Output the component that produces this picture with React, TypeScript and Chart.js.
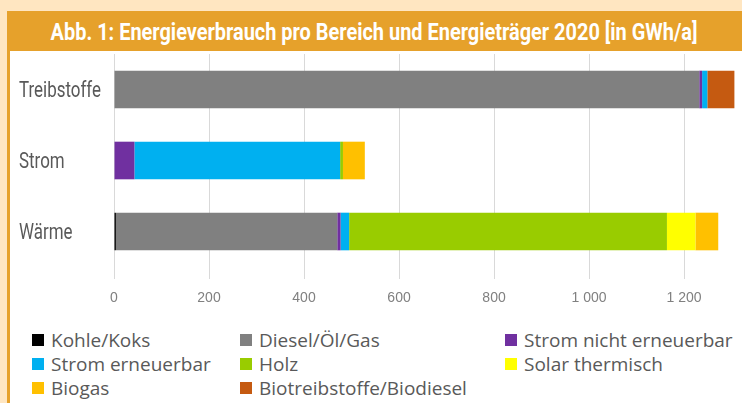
import React, { useEffect, useLayoutEffect, useRef } from "react";
import { Chart, registerables } from "chart.js";

Chart.register(...registerables);

const titleText = "Abb. 1: Energieverbrauch pro Bereich und Energieträger 2020 [in GWh/a]";

const categories = ["Treibstoffe", "Strom", "Wärme"];

const seriesNames = [
  "Kohle/Koks",
  "Diesel/Öl/Gas",
  "Strom nicht erneuerbar",
  "Strom erneuerbar",
  "Holz",
  "Solar thermisch",
  "Biogas",
  "Biotreibstoffe/Biodiesel",
];

const kohleKoks = [0, 0, 4];
const dieselOelGas = [1232, 0, 466];
const stromNichtErneuerbar = [6, 43, 7];
const stromErneuerbar = [11, 433, 18];
const holz = [0, 6, 669];
const solarThermisch = [0, 0, 60];
const biogas = [0, 46, 48];
const biotreibstoffe = [57, 0, 0];

const seriesValues = [
  kohleKoks,
  dieselOelGas,
  stromNichtErneuerbar,
  stromErneuerbar,
  holz,
  solarThermisch,
  biogas,
  biotreibstoffe,
];

const seriesColors = [
  "#000000",
  "#808080",
  "#7030A0",
  "#00B0F0",
  "#99CC00",
  "#FFFF00",
  "#FFC000",
  "#C55A11",
];

const xTickValues = [0, 200, 400, 600, 800, 1000, 1200];
const xMax = 1322;

const fmt = (v: number) => String(v).replace(/\B(?=(\d{3})+(?!\d))/g, " ");

const CREAM = "#FFE6C1";
const ORANGE = "#E6A12B";

const legendCols = [32, 240, 505];
const legendRows = [340, 364, 388];

// Draws the y-axis category labels in a condensed style (horizontally scaled Roboto)
const condensedYLabels = {
  id: "condensedYLabels",
  afterDraw(chart: any) {
    const s = chart.scales.y;
    const ctx = chart.ctx as CanvasRenderingContext2D;
    ctx.save();
    ctx.font = "22px Roboto, sans-serif";
    ctx.fillStyle = "#595959";
    ctx.textBaseline = "middle";
    ctx.textAlign = "left";
    s.ticks.forEach((_t: any, i: number) => {
      const y = s.getPixelForTick(i) + 2;
      const label = String(chart.data.labels[i]);
      ctx.save();
      ctx.translate(s.left, y);
      ctx.scale(0.77, 1);
      ctx.fillText(label, 0, 0);
      ctx.restore();
    });
    ctx.restore();
  },
};

export default function App() {
  const canvasRef = useRef<HTMLCanvasElement | null>(null);
  const titleRef = useRef<HTMLSpanElement | null>(null);

  useLayoutEffect(() => {
    const el = titleRef.current;
    if (el) {
      el.style.transform = "none";
      const w = el.getBoundingClientRect().width;
      if (w > 0) el.style.transform = `scaleX(${647 / w})`;
    }
  }, []);

  useEffect(() => {
    if (!canvasRef.current) return;
    const chart = new Chart(canvasRef.current, {
      type: "bar",
      data: {
        labels: categories,
        datasets: seriesNames.map((name, i) => ({
          label: name,
          data: seriesValues[i],
          backgroundColor: seriesColors[i],
          borderWidth: 0,
          categoryPercentage: 1,
          barPercentage: 0.53,
        })),
      },
      options: {
        indexAxis: "y",
        animation: false,
        responsive: false,
        maintainAspectRatio: false,
        layout: { padding: { left: 9, top: 3, right: 0, bottom: 0 } },
        plugins: {
          legend: { display: false },
          tooltip: { enabled: false },
          title: { display: false },
        },
        scales: {
          x: {
            stacked: true,
            min: 0,
            max: xMax,
            afterBuildTicks: (s: any) => {
              s.ticks = xTickValues.map((v) => ({ value: v }));
            },
            grid: { color: "#D9D9D9", lineWidth: 1, tickLength: 12, drawTicks: true },
            border: { display: false },
            ticks: {
              color: "#808080",
              font: { family: "'Liberation Sans', Arial, sans-serif", size: 14 },
              padding: 11,
              autoSkip: false,
              maxRotation: 0,
              callback: (v: any) => fmt(Number(v)),
            },
            afterFit: (s: any) => {
              s.height = 54;
            },
          },
          y: {
            stacked: true,
            grid: { display: false },
            border: { display: false },
            ticks: { display: false },
            afterFit: (s: any) => {
              s.width = 95;
            },
          },
        },
      },
      plugins: [condensedYLabels],
    } as any);
    return () => chart.destroy();
  }, []);

  return (
    <div
      style={{
        position: "fixed",
        left: 0,
        top: 0,
        width: 742,
        height: 403,
        background: CREAM,
        overflow: "hidden",
      }}
    >
      <div
        style={{
          position: "absolute",
          left: 7,
          top: 51,
          width: 735,
          height: 352,
          background: "#FFFFFF",
          borderLeft: `3px solid ${ORANGE}`,
          boxSizing: "border-box",
        }}
      />
      <div
        style={{
          position: "absolute",
          left: 7,
          top: 11,
          width: 735,
          height: 40,
          background: ORANGE,
          display: "flex",
          justifyContent: "center",
          alignItems: "center",
          overflow: "hidden",
        }}
      >
        <span
          ref={titleRef}
          style={{
            display: "inline-block",
            whiteSpace: "nowrap",
            color: "#FFFFFF",
            fontFamily: "Roboto, sans-serif",
            fontWeight: "bold",
            fontSize: 23,
            lineHeight: "26px",
            marginTop: 3,
            transformOrigin: "center center",
          }}
        >
          {titleText}
        </span>
      </div>
      <canvas
        ref={canvasRef}
        width={732}
        height={270}
        style={{ position: "absolute", left: 10, top: 51, width: 732, height: 270 }}
      />
      {seriesNames.map((name, i) => {
        const col = legendCols[i % 3];
        const row = legendRows[Math.floor(i / 3)];
        return (
          <div
            key={name}
            style={{
              position: "absolute",
              left: col,
              top: row - 12,
              height: 24,
              display: "flex",
              alignItems: "center",
              whiteSpace: "nowrap",
            }}
          >
            <span
              style={{
                display: "inline-block",
                width: 12,
                height: 12,
                background: seriesColors[i],
                marginRight: 7,
              }}
            />
            <span
              style={{
                fontFamily: "'Open Sans', sans-serif",
                fontSize: 19,
                lineHeight: "24px",
                color: "#595959",
              }}
            >
              {name}
            </span>
          </div>
        );
      })}
    </div>
  );
}
